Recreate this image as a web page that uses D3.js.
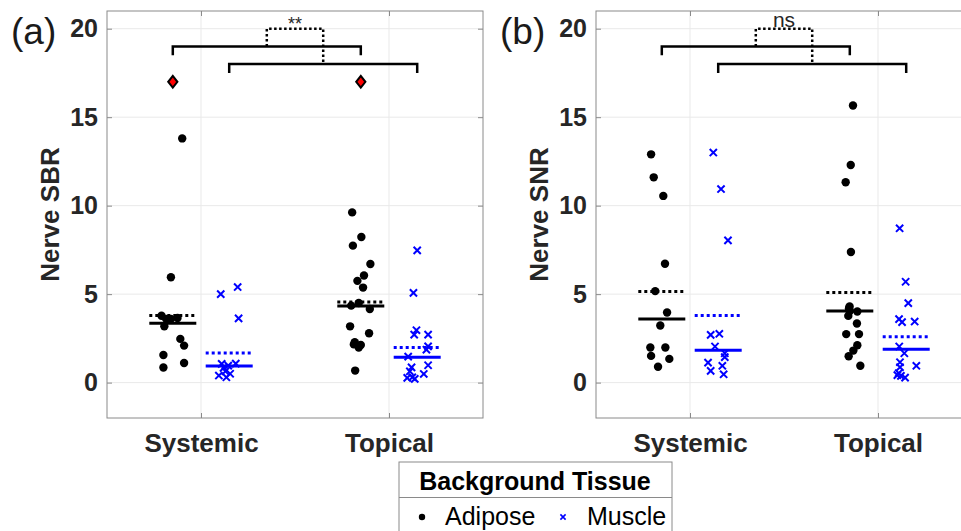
<!DOCTYPE html>
<html>
<head>
<meta charset="utf-8">
<script src="https://cdn.jsdelivr.net/npm/d3@7"></script>
<style>
  body { margin: 0; background: #fff; }
  svg { display: block; font-family: 'Liberation Sans', Arial, sans-serif; }
</style>
</head>
<body>
<svg id="chart" width="961" height="531"></svg>
<script>
const categories = ['Systemic', 'Topical'];
const tissues = ['Adipose', 'Muscle'];
const yTicks = [0, 5, 10, 15, 20];

// Panel (a) - Nerve SBR, values and horizontal jitter (x units)
const sbrSysAdipose = [13.8, 5.95, 3.78, 3.6, 3.6, 3.65, 3.18, 2.47, 2.09, 1.56, 1.11, 0.85];
const sbrSysAdiposeJit = [0.05, -0.01, -0.06, -0.035, -0.01, 0.025, -0.045, 0.04, 0.06, -0.05, 0.06, -0.05];
const sbrSysMuscle = [5.0, 5.4, 3.63, 1.06, 1.07, 0.96, 0.83, 0.64, 0.5, 0.4, 0.3];
const sbrSysMuscleJit = [-0.045, 0.045, 0.05, -0.04, 0.035, -0.005, -0.03, -0.02, 0.005, -0.055, -0.015];
const sbrTopAdipose = [9.62, 8.23, 7.74, 6.7, 6.05, 5.75, 5.37, 4.35, 4.5, 4.16, 3.18, 2.79, 2.28, 2.16, 2.13, 1.98, 0.68];
const sbrTopAdiposeJit = [-0.046, 0.003, -0.042, 0.051, 0.017, -0.018, 0.012, -0.051, -0.011, 0.048, -0.057, 0.044, -0.032, -0.037, 0, -0.011, -0.03];
const sbrTopMuscle = [7.47, 5.07, 2.96, 2.71, 2.71, 2.05, 1.86, 1.47, 0.86, 0.98, 0.64, 0.49, 0.27, 0.21, 0.3];
const sbrTopMuscleJit = [0, -0.02, -0.004, -0.016, 0.058, 0.058, 0.049, -0.048, -0.03, 0.058, -0.039, 0.035, -0.053, -0.013, -0.026];
const sbrMeans = [3.79, 1.68, 4.56, 1.98];
const sbrMedians = [3.36, 0.94, 4.33, 1.44];
const sbrMarked = [17, 17]; // red diamonds over the adipose groups

// Panel (b) - Nerve SNR
const snrSysAdipose = [12.9, 11.6, 10.55, 6.72, 5.17, 3.96, 3.23, 1.98, 1.98, 1.51, 1.34, 0.9];
const snrSysAdiposeJit = [-0.057, -0.043, 0.008, 0.017, -0.035, 0.028, -0.008, -0.061, 0.019, -0.057, 0.04, -0.02];
const snrSysMuscle = [13.0, 10.94, 8.04, 2.7, 2.76, 2.04, 1.66, 1.44, 1.13, 0.95, 0.66, 0.47];
const snrSysMuscleJit = [-0.026, 0.015, 0.052, -0.04, 0.006, -0.017, 0.035, 0.035, -0.054, 0.022, -0.04, 0.029];
const snrTopAdipose = [15.66, 12.3, 11.32, 7.38, 4.3, 4.11, 4.02, 3.77, 3.34, 2.74, 2.74, 2.11, 1.81, 1.49, 0.95, 4.05, 4.2];
const snrTopAdiposeJit = [0.017, 0.005, -0.022, 0.006, -0.001, -0.004, 0.04, -0.008, 0.038, -0.019, 0.049, 0.04, 0.019, -0.006, 0.056, 0, -0.004];
const snrTopMuscle = [8.72, 5.7, 4.49, 3.59, 3.42, 3.45, 2.04, 1.66, 1.15, 0.95, 0.87, 0.53, 0.38, 0.28, 0.42];
const snrTopMuscleJit = [-0.035, -0.003, 0.011, -0.038, -0.022, 0.045, -0.037, -0.01, -0.033, 0.054, -0.033, -0.04, -0.028, -0.006, -0.047];
const snrMeans = [5.15, 3.79, 5.09, 2.59];
const snrMedians = [3.6, 1.83, 4.04, 1.89];

// brackets: adipose pair on top, muscle pair below, dotted link between them
const bracketLevels = [19, 18];
const linkLevel = 20;

const svg = d3.select('#chart');
const textColor = '#262626';
const axisColor = '#8a8a8a';
const tissueColor = ['#000000', '#0000ff'];
const groupOffset = [-0.15, 0.15];

function drawPanel(p) {
  const x = d3.scaleLinear().domain([0.5, 2.5]).range([p.left, p.right]);
  const y = d3.scaleLinear().domain([-2, 21]).range([418, 11]);
  const g = svg.append('g');

  // grid
  g.selectAll('.gy').data(yTicks).join('line')
    .attr('x1', p.left).attr('x2', p.right)
    .attr('y1', d => y(d)).attr('y2', d => y(d))
    .attr('stroke', '#e9e9e9');
  g.selectAll('.gx').data([1, 2]).join('line')
    .attr('x1', d => x(d)).attr('x2', d => x(d))
    .attr('y1', y(21)).attr('y2', y(-2))
    .attr('stroke', '#e9e9e9');

  // axes
  const styleAxis = sel => {
    sel.select('.domain').remove();
    sel.selectAll('.tick line').attr('stroke', axisColor);
    sel.selectAll('.tick text').attr('fill', textColor).attr('font-weight', 'bold')
      .attr('font-family', "'Liberation Sans', Arial, sans-serif");
  };
  g.append('g').attr('transform', `translate(${p.left},0)`)
    .call(d3.axisLeft(y).tickValues(yTicks).tickSize(-5).tickPadding(9))
    .call(styleAxis)
    .selectAll('.tick text').attr('font-size', 25);
  g.append('g').attr('transform', `translate(${p.right},0)`)
    .call(d3.axisRight(y).tickValues(yTicks).tickSize(-5).tickFormat(''))
    .call(styleAxis);
  g.append('g').attr('transform', `translate(0,${y(-2)})`)
    .call(d3.axisBottom(x).tickValues([1, 2]).tickSize(-5).tickPadding(16)
      .tickFormat(d => categories[d - 1]))
    .call(styleAxis)
    .selectAll('.tick text').attr('font-size', 26);
  g.append('g').attr('transform', `translate(0,${y(21)})`)
    .call(d3.axisTop(x).tickValues([1, 2]).tickSize(-5).tickFormat(''))
    .call(styleAxis);

  // points
  p.groups.forEach((grp, k) => {
    const cat = Math.floor(k / 2) + 1;
    const t = k % 2;
    const cx = cat + groupOffset[t];
    const pts = grp.values.map((v, i) => ({ x: cx + grp.jitter[i], v }));
    if (t === 0) {
      g.append('g').selectAll('circle').data(pts).join('circle')
        .attr('cx', d => x(d.x)).attr('cy', d => y(d.v)).attr('r', 4.2)
        .attr('fill', tissueColor[0]);
    } else {
      g.append('g').selectAll('path').data(pts).join('path')
        .attr('transform', d => `translate(${x(d.x)},${y(d.v)})`)
        .attr('d', 'M-3.6,-3.6L3.6,3.6M-3.6,3.6L3.6,-3.6')
        .attr('stroke', tissueColor[1]).attr('stroke-width', 2).attr('fill', 'none');
    }
    // mean (dotted) and median (solid)
    g.append('line')
      .attr('x1', x(cx - 0.125)).attr('x2', x(cx + 0.125))
      .attr('y1', y(p.means[k])).attr('y2', y(p.means[k]))
      .attr('stroke', tissueColor[t]).attr('stroke-width', 3).attr('stroke-dasharray', '3,3');
    g.append('line')
      .attr('x1', x(cx - 0.125)).attr('x2', x(cx + 0.125))
      .attr('y1', y(p.medians[k])).attr('y2', y(p.medians[k]))
      .attr('stroke', tissueColor[t]).attr('stroke-width', 3);
  });

  // red diamonds
  if (p.marked) {
    g.append('g').selectAll('path').data(p.marked).join('path')
      .attr('transform', (d, i) => `translate(${x(i + 1 + groupOffset[0])},${y(d)})`)
      .attr('d', 'M0,-5.8L4.6,0L0,5.8L-4.6,0Z')
      .attr('fill', '#ff0000').attr('stroke', '#000').attr('stroke-width', 2);
  }

  // significance brackets
  const line = d3.line().x(d => x(d[0])).y(d => y(d[1]));
  bracketLevels.forEach((lv, t) => {
    const a = 1 + groupOffset[t], b = 2 + groupOffset[t];
    g.append('path')
      .attr('d', line([[a, lv - 0.5], [a, lv], [b, lv], [b, lv - 0.5]]))
      .attr('fill', 'none').attr('stroke', '#000').attr('stroke-width', 2.5);
  });
  const m1 = 1.5 + groupOffset[0], m2 = 1.5 + groupOffset[1];
  g.append('path')
    .attr('d', line([[m1, bracketLevels[0]], [m1, linkLevel], [m2, linkLevel], [m2, bracketLevels[1]]]))
    .attr('fill', 'none').attr('stroke', '#000').attr('stroke-width', 2.5)
    .attr('stroke-dasharray', '2.5,2.5');
  g.append('text')
    .attr('x', x(1.5)).attr('y', y(linkLevel) + p.sigDy)
    .attr('text-anchor', 'middle').attr('font-size', p.sigSize).attr('fill', textColor)
    .text(p.sig);

  // box
  g.append('rect')
    .attr('x', p.left).attr('y', y(21))
    .attr('width', p.right - p.left).attr('height', y(-2) - y(21))
    .attr('fill', 'none').attr('stroke', axisColor);

  // labels
  g.append('text')
    .attr('transform', `translate(${p.left - 57},${(y(21) + y(-2)) / 2}) rotate(-90)`)
    .attr('text-anchor', 'middle').attr('dy', '0.35em')
    .attr('font-size', 26).attr('font-weight', 'bold').attr('fill', textColor)
    .text(p.ylabel);
  g.append('text')
    .attr('x', p.left - 96).attr('y', 44)
    .attr('font-size', 37).attr('fill', '#1a1a1a')
    .text(p.tag);
}

drawPanel({
  left: 107, right: 483, tag: '(a)', ylabel: 'Nerve SBR', sig: '**', sigSize: 18, sigDy: 1.5,
  groups: [
    { values: sbrSysAdipose, jitter: sbrSysAdiposeJit },
    { values: sbrSysMuscle, jitter: sbrSysMuscleJit },
    { values: sbrTopAdipose, jitter: sbrTopAdiposeJit },
    { values: sbrTopMuscle, jitter: sbrTopMuscleJit }
  ],
  means: sbrMeans, medians: sbrMedians, marked: sbrMarked
});

drawPanel({
  left: 596, right: 972, tag: '(b)', ylabel: 'Nerve SNR', sig: 'ns', sigSize: 21, sigDy: -2,
  groups: [
    { values: snrSysAdipose, jitter: snrSysAdiposeJit },
    { values: snrSysMuscle, jitter: snrSysMuscleJit },
    { values: snrTopAdipose, jitter: snrTopAdiposeJit },
    { values: snrTopMuscle, jitter: snrTopMuscleJit }
  ],
  means: snrMeans, medians: snrMedians
});

// legend
const lg = svg.append('g');
lg.append('rect').attr('x', 399).attr('y', 462).attr('width', 273).attr('height', 90)
  .attr('fill', '#fff').attr('stroke', axisColor);
lg.append('line').attr('x1', 399).attr('x2', 672).attr('y1', 497.5).attr('y2', 497.5)
  .attr('stroke', axisColor);
lg.append('text').attr('x', 535).attr('y', 490).attr('text-anchor', 'middle')
  .attr('font-size', 25).attr('font-weight', 'bold').attr('fill', '#000')
  .text('Background Tissue');
lg.append('circle').attr('cx', 422).attr('cy', 517).attr('r', 3.2).attr('fill', tissueColor[0]);
lg.append('text').attr('x', 445).attr('y', 525).attr('font-size', 25).attr('fill', '#000').text(tissues[0]);
lg.append('path').attr('transform', 'translate(563,517)')
  .attr('d', 'M-2.6,-2.6L2.6,2.6M-2.6,2.6L2.6,-2.6')
  .attr('stroke', tissueColor[1]).attr('stroke-width', 1.6);
lg.append('text').attr('x', 587).attr('y', 525).attr('font-size', 25).attr('fill', '#000').text(tissues[1]);
</script>
</body>
</html>
